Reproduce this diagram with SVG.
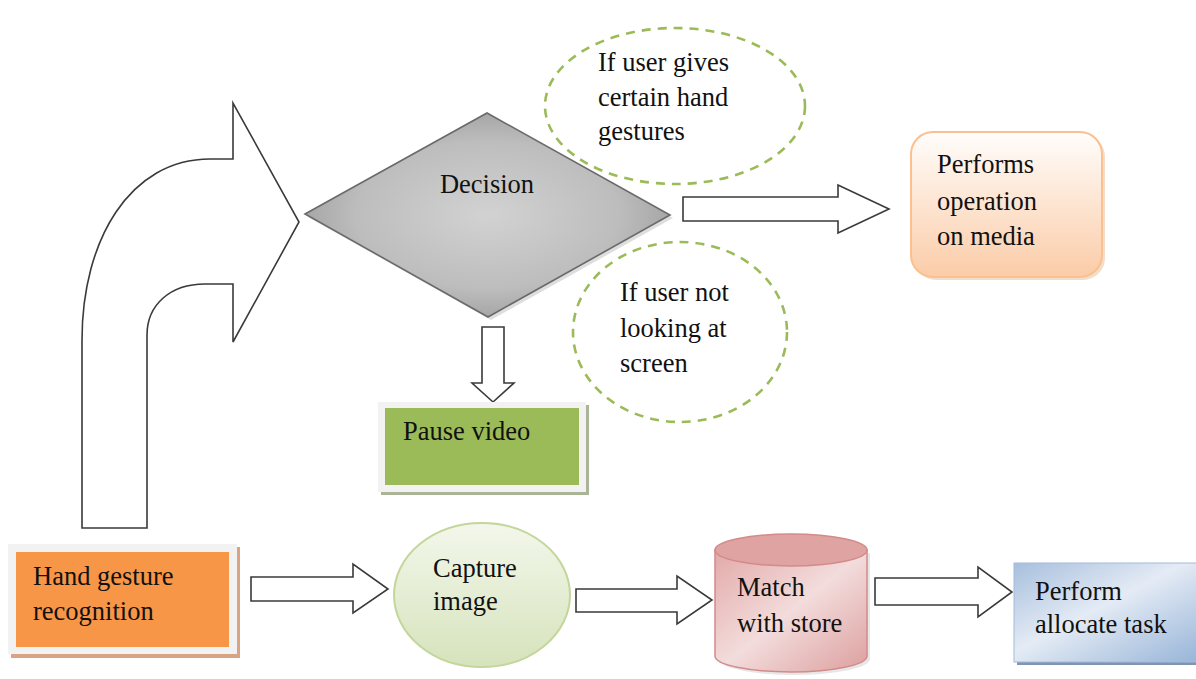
<svg xmlns="http://www.w3.org/2000/svg" width="1196" height="679" viewBox="0 0 1196 679">
<defs>
<radialGradient id="gDiamond" cx="0.5" cy="0.5" r="0.6">
<stop offset="0" stop-color="#d2d2d2"/>
<stop offset="0.6" stop-color="#bdbdbd"/>
<stop offset="1" stop-color="#969696"/>
</radialGradient>
<linearGradient id="gCapture" x1="0" y1="0" x2="0" y2="1">
<stop offset="0" stop-color="#f3f7eb"/>
<stop offset="1" stop-color="#d6e3bc"/>
</linearGradient>
<linearGradient id="gCyl" x1="0" y1="0" x2="1" y2="1">
<stop offset="0" stop-color="#e2a9a8"/>
<stop offset="0.5" stop-color="#f3dcdc"/>
<stop offset="1" stop-color="#dc9f9e"/>
</linearGradient>
<linearGradient id="gPerform" x1="0" y1="0" x2="1" y2="1">
<stop offset="0" stop-color="#a7bfdd"/>
<stop offset="0.45" stop-color="#e4ebf5"/>
<stop offset="1" stop-color="#95b3d7"/>
</linearGradient>
<linearGradient id="gMedia" x1="0" y1="0" x2="0" y2="1">
<stop offset="0" stop-color="#fffdfb"/>
<stop offset="1" stop-color="#fbcca8"/>
</linearGradient>
<style>
.t{font-size:26.5px;fill:#111;}
.blk{fill:#fff;stroke:#3a3a3a;stroke-width:1.6;stroke-linejoin:miter;}
.dash{fill:none;stroke:#9bbb59;stroke-width:2.6;stroke-dasharray:9 7;}
</style>
</defs>

<g id="connectors">
<path class="blk" d="M82,528 L82,340 C82,240 130,159 210,159 L233,159 L233,103 L299,222 L233,342 L233,284 L205,284 C170,284 147,305 147,335 L147,528 Z"/>
<path class="blk" d="M251,577 L353,577 L353,564 L388,589 L353,613 L353,601 L251,601 Z"/>
<path class="blk" d="M576,589 L677,589 L677,576 L712,600 L677,624 L677,612 L576,612 Z"/>
<path class="blk" d="M875,578 L978,578 L978,567 L1012,592 L978,617 L978,605 L875,605 Z"/>
<path class="blk" d="M683,197 L838,197 L838,185 L889,209 L838,233 L838,221 L683,221 Z"/>
<path class="blk" d="M482,327 L504,327 L504,383 L514,383 L493,402 L472,383 L482,383 Z"/>
</g>

<g font-family="Liberation Serif, Times New Roman, serif">
<g id="cond-gestures">
<ellipse class="dash" cx="675" cy="106" rx="130" ry="78"/>
<text class="t" x="598" y="71">If user gives</text>
<text class="t" x="598" y="106">certain hand</text>
<text class="t" x="598" y="140">gestures</text>
</g>

<g id="cond-looking">
<ellipse class="dash" cx="680" cy="332" rx="107" ry="90"/>
<text class="t" x="620" y="301">If user not</text>
<text class="t" x="620" y="337">looking at</text>
<text class="t" x="620" y="372">screen</text>
</g>

<g id="decision">
<polygon points="308,217 490,116 673,218 491,320" fill="#c8c8c8" opacity="0.6"/>
<polygon points="305,214 487,113 670,215 488,317" fill="url(#gDiamond)" stroke="#6a6a6a" stroke-width="1.6"/>
<text class="t" x="487" y="193" text-anchor="middle">Decision</text>
</g>

<g id="performs-operation">
<rect x="914" y="135" width="191" height="145" rx="22" fill="#e8c8a8" opacity="0.6"/>
<rect x="911" y="132" width="191" height="145" rx="22" fill="url(#gMedia)" stroke="#fac090" stroke-width="2"/>
<text class="t" x="937" y="173">Performs</text>
<text class="t" x="937" y="210">operation</text>
<text class="t" x="937" y="245">on media</text>
</g>

<g id="pause-video">
<rect x="381" y="405" width="208" height="90" fill="#aab597"/>
<rect x="378" y="402" width="208" height="90" fill="#f2f2f2"/>
<rect x="385" y="408" width="194" height="77" fill="#9bbb59"/>
<text class="t" x="403" y="440">Pause video</text>
</g>

<g id="hand-gesture">
<rect x="11" y="547" width="229" height="111" fill="#d9a483"/>
<rect x="8" y="544" width="229" height="110" fill="#f2f2f2"/>
<rect x="16" y="552" width="213" height="95" fill="#f79646"/>
<text class="t" x="33" y="585">Hand gesture</text>
<text class="t" x="33" y="620">recognition</text>
</g>

<g id="capture-image">
<ellipse cx="482" cy="595" rx="88" ry="72" fill="url(#gCapture)" stroke="#c3d69b" stroke-width="2"/>
<text class="t" x="433" y="577">Capture</text>
<text class="t" x="433" y="610">image</text>
</g>

<g id="match-store">
<path d="M718,553 L718,659 A76,16 0 0 0 870,659 L870,553 Z" fill="#cfcfcf" opacity="0.5"/>
<path d="M715,550 L715,656 A76,16 0 0 0 867,656 L867,550 Z" fill="url(#gCyl)" stroke="#d28b8a" stroke-width="1.5"/>
<ellipse cx="791" cy="550" rx="76" ry="16" fill="#dfa3a2" stroke="#d28b8a" stroke-width="1.5"/>
<text class="t" x="737" y="596">Match</text>
<text class="t" x="737" y="632">with store</text>
</g>

<g id="perform-task">
<rect x="1017" y="566" width="190" height="99" fill="#8095b0"/>
<rect x="1014" y="563" width="190" height="99" fill="url(#gPerform)" stroke="#a3bcdb" stroke-width="1"/>
<text class="t" x="1035" y="600">Perform</text>
<text class="t" x="1035" y="633">allocate task</text>
</g>
</g>
</svg>
